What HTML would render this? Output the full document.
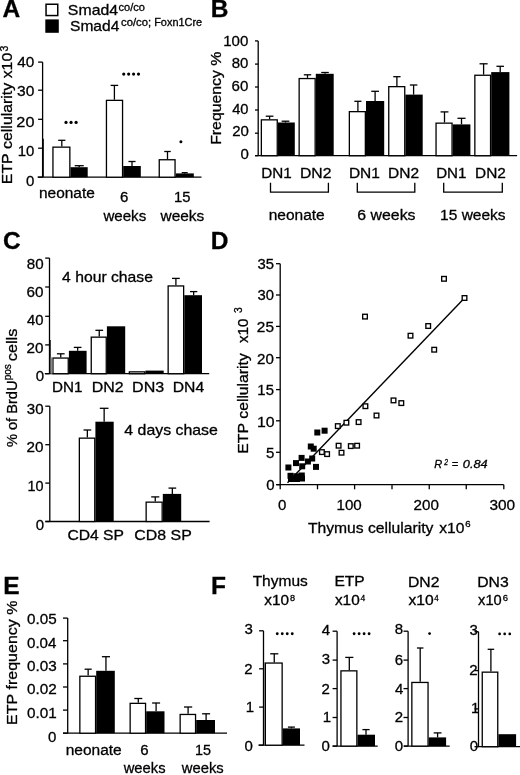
<!DOCTYPE html>
<html><head><meta charset="utf-8"><style>
html,body{margin:0;padding:0;background:#fff;}
svg{display:block;will-change:transform;filter:blur(0.3px);}
text{font-family:"Liberation Sans", sans-serif;fill:#000;font-kerning:none;stroke:#000;stroke-width:0.3px;}
</style></head><body>
<svg width="520" height="775" viewBox="0 0 520 775">
<rect width="520" height="775" fill="#fff"/>
<text x="2.39" y="17.20" font-size="24.5" font-weight="bold" >A</text>
<text x="210.76" y="17.40" font-size="24.5" font-weight="bold" >B</text>
<text x="3.00" y="248.60" font-size="24.5" font-weight="bold" >C</text>
<text x="210.76" y="248.60" font-size="24.5" font-weight="bold" >D</text>
<text x="3.36" y="594.10" font-size="24.5" font-weight="bold" >E</text>
<text x="210.96" y="594.10" font-size="24.5" font-weight="bold" >F</text>
<rect x="46.05" y="4.25" width="11.7" height="11.3" fill="#fff" stroke="#000" stroke-width="1.5"/>
<rect x="45.3" y="19.4" width="13.5" height="13.4" fill="#000"/>
<text x="67.88" y="15.20" font-size="15" font-weight="normal"  textLength="50.18" lengthAdjust="spacingAndGlyphs">Smad4</text>
<text x="118.53" y="10.80" font-size="10.5" font-weight="normal"  textLength="26.33" lengthAdjust="spacingAndGlyphs">co/co</text>
<text x="70.04" y="30.80" font-size="15" font-weight="normal"  textLength="49.31" lengthAdjust="spacingAndGlyphs">Smad4</text>
<text x="121.02" y="26.20" font-size="10.5" font-weight="normal"  textLength="29.99" lengthAdjust="spacingAndGlyphs">co/co;</text>
<text x="154.21" y="26.20" font-size="10.5" font-weight="normal"  textLength="47.88" lengthAdjust="spacingAndGlyphs">Foxn1Cre</text>
<line x1="42.6" y1="62.1" x2="42.6" y2="177.2" stroke="#000" stroke-width="1.3"/>
<line x1="38.1" y1="62.1" x2="42.6" y2="62.1" stroke="#000" stroke-width="1.3"/>
<line x1="38.1" y1="90.2" x2="42.6" y2="90.2" stroke="#000" stroke-width="1.3"/>
<line x1="38.1" y1="119.3" x2="42.6" y2="119.3" stroke="#000" stroke-width="1.3"/>
<line x1="38.1" y1="148.2" x2="42.6" y2="148.2" stroke="#000" stroke-width="1.3"/>
<line x1="38.1" y1="177.2" x2="42.6" y2="177.2" stroke="#000" stroke-width="1.3"/>
<line x1="37.6" y1="177.2" x2="201.5" y2="177.2" stroke="#000" stroke-width="1.3"/>
<text x="17.25" y="66.90" font-size="15.0" font-weight="normal"  textLength="17.05" lengthAdjust="spacingAndGlyphs">40</text>
<text x="17.01" y="96.20" font-size="15.0" font-weight="normal"  textLength="17.30" lengthAdjust="spacingAndGlyphs">30</text>
<text x="16.38" y="127.20" font-size="15.0" font-weight="normal"  textLength="18.05" lengthAdjust="spacingAndGlyphs">20</text>
<text x="17.76" y="156.00" font-size="15.0" font-weight="normal"  textLength="16.62" lengthAdjust="spacingAndGlyphs">10</text>
<text x="26.01" y="186.20" font-size="15.0" font-weight="normal" >0</text>
<rect x="52.95" y="147.15" width="16.90" height="30.05" fill="#fff" stroke="#000" stroke-width="1.3"/>
<line x1="61.8" y1="146.5" x2="61.8" y2="140.3" stroke="#000" stroke-width="1.3"/>
<line x1="58.199999999999996" y1="140.3" x2="65.39999999999999" y2="140.3" stroke="#000" stroke-width="1.3"/>
<rect x="70.50" y="167.20" width="17.20" height="10.00" fill="#000"/>
<line x1="79.2" y1="167.2" x2="79.2" y2="165.7" stroke="#000" stroke-width="1.3"/>
<line x1="74.7" y1="165.7" x2="83.7" y2="165.7" stroke="#000" stroke-width="1.3"/>
<rect x="106.45" y="100.35" width="16.10" height="76.85" fill="#fff" stroke="#000" stroke-width="1.3"/>
<line x1="114.4" y1="99.7" x2="114.4" y2="85.4" stroke="#000" stroke-width="1.3"/>
<line x1="110.60000000000001" y1="85.4" x2="118.2" y2="85.4" stroke="#000" stroke-width="1.3"/>
<rect x="123.20" y="166.00" width="17.60" height="11.20" fill="#000"/>
<line x1="132.0" y1="166.0" x2="132.0" y2="161.5" stroke="#000" stroke-width="1.3"/>
<line x1="128.45" y1="161.5" x2="135.55" y2="161.5" stroke="#000" stroke-width="1.3"/>
<rect x="159.25" y="159.75" width="15.80" height="17.45" fill="#fff" stroke="#000" stroke-width="1.3"/>
<line x1="167.5" y1="159.1" x2="167.5" y2="151.5" stroke="#000" stroke-width="1.3"/>
<line x1="164.25" y1="151.5" x2="170.75" y2="151.5" stroke="#000" stroke-width="1.3"/>
<rect x="175.70" y="173.40" width="18.10" height="3.80" fill="#000"/>
<line x1="184.7" y1="173.4" x2="184.7" y2="172.7" stroke="#000" stroke-width="1.3"/>
<line x1="181.7" y1="172.7" x2="187.7" y2="172.7" stroke="#000" stroke-width="1.3"/>
<circle cx="66.00" cy="122.4" r="1.6" fill="#000"/>
<circle cx="71.05" cy="122.4" r="1.6" fill="#000"/>
<circle cx="76.10" cy="122.4" r="1.6" fill="#000"/>
<circle cx="123.75" cy="74.1" r="1.6" fill="#000"/>
<circle cx="128.67" cy="74.1" r="1.6" fill="#000"/>
<circle cx="133.58" cy="74.1" r="1.6" fill="#000"/>
<circle cx="138.50" cy="74.1" r="1.6" fill="#000"/>
<circle cx="180.9" cy="141.8" r="1.5" fill="#000"/>
<text x="38.97" y="197.80" font-size="15.5" font-weight="normal"  textLength="55.81" lengthAdjust="spacingAndGlyphs">neonate</text>
<text x="119.94" y="202.00" font-size="15.0" font-weight="normal" >6</text>
<text x="103.42" y="220.60" font-size="15.5" font-weight="normal"  textLength="42.82" lengthAdjust="spacingAndGlyphs">weeks</text>
<text x="173.97" y="202.00" font-size="15.0" font-weight="normal"  textLength="16.45" lengthAdjust="spacingAndGlyphs">15</text>
<text x="160.52" y="221.00" font-size="15.5" font-weight="normal"  textLength="43.73" lengthAdjust="spacingAndGlyphs">weeks</text>
<text transform="translate(11.60,184.20) rotate(-90)" x="0" y="0" font-size="15.0" textLength="131.42" lengthAdjust="spacingAndGlyphs">ETP cellularity x10</text>
<line x1="258.2" y1="40.9" x2="258.2" y2="155.7" stroke="#000" stroke-width="1.3"/>
<line x1="255.0" y1="40.9" x2="258.2" y2="40.9" stroke="#000" stroke-width="1.3"/>
<line x1="255.0" y1="64.1" x2="258.2" y2="64.1" stroke="#000" stroke-width="1.3"/>
<line x1="255.0" y1="87.0" x2="258.2" y2="87.0" stroke="#000" stroke-width="1.3"/>
<line x1="255.0" y1="110.0" x2="258.2" y2="110.0" stroke="#000" stroke-width="1.3"/>
<line x1="255.0" y1="133.2" x2="258.2" y2="133.2" stroke="#000" stroke-width="1.3"/>
<line x1="255.0" y1="155.7" x2="258.2" y2="155.7" stroke="#000" stroke-width="1.3"/>
<line x1="255.1" y1="155.7" x2="517.1" y2="155.7" stroke="#000" stroke-width="1.3"/>
<text x="223.15" y="46.00" font-size="15.0" font-weight="normal"  textLength="25.14" lengthAdjust="spacingAndGlyphs">100</text>
<text x="231.65" y="68.10" font-size="15.0" font-weight="normal"  textLength="16.63" lengthAdjust="spacingAndGlyphs">80</text>
<text x="231.54" y="91.20" font-size="15.0" font-weight="normal"  textLength="16.75" lengthAdjust="spacingAndGlyphs">60</text>
<text x="232.16" y="113.70" font-size="15.0" font-weight="normal"  textLength="16.31" lengthAdjust="spacingAndGlyphs">40</text>
<text x="232.25" y="136.30" font-size="15.0" font-weight="normal" >20</text>
<text x="240.61" y="158.90" font-size="15.0" font-weight="normal" >0</text>
<rect x="261.35" y="119.85" width="15.90" height="35.85" fill="#fff" stroke="#000" stroke-width="1.3"/>
<line x1="269.6" y1="119.2" x2="269.6" y2="116.2" stroke="#000" stroke-width="1.3"/>
<line x1="265.75" y1="116.2" x2="273.45000000000005" y2="116.2" stroke="#000" stroke-width="1.3"/>
<rect x="277.90" y="122.50" width="16.90" height="33.20" fill="#000"/>
<line x1="285.5" y1="122.5" x2="285.5" y2="121.2" stroke="#000" stroke-width="1.3"/>
<line x1="281.65" y1="121.2" x2="289.35" y2="121.2" stroke="#000" stroke-width="1.3"/>
<rect x="299.15" y="78.55" width="16.00" height="77.15" fill="#fff" stroke="#000" stroke-width="1.3"/>
<line x1="307.5" y1="77.9" x2="307.5" y2="74.8" stroke="#000" stroke-width="1.3"/>
<line x1="303.8" y1="74.8" x2="311.2" y2="74.8" stroke="#000" stroke-width="1.3"/>
<rect x="315.80" y="73.80" width="17.90" height="81.90" fill="#000"/>
<line x1="325.0" y1="73.8" x2="325.0" y2="72.5" stroke="#000" stroke-width="1.3"/>
<line x1="321.2" y1="72.5" x2="328.8" y2="72.5" stroke="#000" stroke-width="1.3"/>
<rect x="349.35" y="111.65" width="16.00" height="44.05" fill="#fff" stroke="#000" stroke-width="1.3"/>
<line x1="357.9" y1="111.0" x2="357.9" y2="101.3" stroke="#000" stroke-width="1.3"/>
<line x1="354.34999999999997" y1="101.3" x2="361.45" y2="101.3" stroke="#000" stroke-width="1.3"/>
<rect x="366.00" y="101.00" width="18.20" height="54.70" fill="#000"/>
<line x1="375.1" y1="101.0" x2="375.1" y2="91.3" stroke="#000" stroke-width="1.3"/>
<line x1="371.25" y1="91.3" x2="378.95000000000005" y2="91.3" stroke="#000" stroke-width="1.3"/>
<rect x="388.75" y="86.65" width="16.00" height="69.05" fill="#fff" stroke="#000" stroke-width="1.3"/>
<line x1="396.9" y1="86.0" x2="396.9" y2="76.7" stroke="#000" stroke-width="1.3"/>
<line x1="393.25" y1="76.7" x2="400.54999999999995" y2="76.7" stroke="#000" stroke-width="1.3"/>
<rect x="405.40" y="94.60" width="17.30" height="61.10" fill="#000"/>
<line x1="413.6" y1="94.6" x2="413.6" y2="85.0" stroke="#000" stroke-width="1.3"/>
<line x1="409.85" y1="85.0" x2="417.35" y2="85.0" stroke="#000" stroke-width="1.3"/>
<rect x="436.05" y="123.15" width="16.00" height="32.55" fill="#fff" stroke="#000" stroke-width="1.3"/>
<line x1="444.5" y1="122.5" x2="444.5" y2="111.9" stroke="#000" stroke-width="1.3"/>
<line x1="440.55" y1="111.9" x2="448.45" y2="111.9" stroke="#000" stroke-width="1.3"/>
<rect x="452.70" y="124.40" width="17.70" height="31.30" fill="#000"/>
<line x1="461.5" y1="124.4" x2="461.5" y2="118.3" stroke="#000" stroke-width="1.3"/>
<line x1="457.45" y1="118.3" x2="465.55" y2="118.3" stroke="#000" stroke-width="1.3"/>
<rect x="474.85" y="75.25" width="15.70" height="80.45" fill="#fff" stroke="#000" stroke-width="1.3"/>
<line x1="483.6" y1="74.6" x2="483.6" y2="63.8" stroke="#000" stroke-width="1.3"/>
<line x1="479.55" y1="63.8" x2="487.65000000000003" y2="63.8" stroke="#000" stroke-width="1.3"/>
<rect x="491.20" y="72.10" width="18.20" height="83.60" fill="#000"/>
<line x1="500.2" y1="72.1" x2="500.2" y2="66.3" stroke="#000" stroke-width="1.3"/>
<line x1="496.45" y1="66.3" x2="503.95" y2="66.3" stroke="#000" stroke-width="1.3"/>
<text x="261.25" y="178.40" font-size="15.0" font-weight="normal"  textLength="30.49" lengthAdjust="spacingAndGlyphs">DN1</text>
<text x="300.01" y="178.40" font-size="15.0" font-weight="normal"  textLength="31.48" lengthAdjust="spacingAndGlyphs">DN2</text>
<text x="348.93" y="178.40" font-size="15.0" font-weight="normal"  textLength="31.03" lengthAdjust="spacingAndGlyphs">DN1</text>
<text x="388.13" y="178.40" font-size="15.0" font-weight="normal"  textLength="31.05" lengthAdjust="spacingAndGlyphs">DN2</text>
<text x="436.16" y="178.40" font-size="15.0" font-weight="normal"  textLength="30.28" lengthAdjust="spacingAndGlyphs">DN1</text>
<text x="475.04" y="178.40" font-size="15.0" font-weight="normal"  textLength="30.84" lengthAdjust="spacingAndGlyphs">DN2</text>
<path d="M270.5 182.7 V192.2 H328.4 V182.7" fill="none" stroke="#000" stroke-width="1.3"/>
<path d="M357.3 182.7 V192.2 H414.8 V182.7" fill="none" stroke="#000" stroke-width="1.3"/>
<path d="M443.7 182.7 V192.2 H502.3 V182.7" fill="none" stroke="#000" stroke-width="1.3"/>
<text x="268.67" y="220.00" font-size="15.5" font-weight="normal" >neonate</text>
<text x="357.39" y="220.00" font-size="15.5" font-weight="normal"  textLength="58.18" lengthAdjust="spacingAndGlyphs">6 weeks</text>
<text x="440.12" y="219.60" font-size="15.5" font-weight="normal" >15 weeks</text>
<text transform="translate(220.50,144.80) rotate(-90)" x="0" y="0" font-size="15.5" textLength="93.06" lengthAdjust="spacingAndGlyphs">Frequency %</text>
<text transform="translate(7.6,51.4) rotate(-90)" font-size="10.5">3</text>
<line x1="49.5" y1="258.1" x2="49.5" y2="373.7" stroke="#000" stroke-width="1.3"/>
<line x1="45.2" y1="258.1" x2="49.5" y2="258.1" stroke="#000" stroke-width="1.3"/>
<line x1="45.2" y1="287.0" x2="49.5" y2="287.0" stroke="#000" stroke-width="1.3"/>
<line x1="45.2" y1="316.3" x2="49.5" y2="316.3" stroke="#000" stroke-width="1.3"/>
<line x1="45.2" y1="344.9" x2="49.5" y2="344.9" stroke="#000" stroke-width="1.3"/>
<line x1="45.2" y1="373.7" x2="49.5" y2="373.7" stroke="#000" stroke-width="1.3"/>
<line x1="44.8" y1="373.7" x2="209.2" y2="373.7" stroke="#000" stroke-width="1.3"/>
<text x="26.74" y="269.40" font-size="15.0" font-weight="normal"  textLength="16.85" lengthAdjust="spacingAndGlyphs">80</text>
<text x="26.63" y="297.40" font-size="15.0" font-weight="normal"  textLength="16.97" lengthAdjust="spacingAndGlyphs">60</text>
<text x="27.06" y="325.00" font-size="15.0" font-weight="normal"  textLength="16.52" lengthAdjust="spacingAndGlyphs">40</text>
<text x="26.63" y="352.50" font-size="15.0" font-weight="normal"  textLength="16.96" lengthAdjust="spacingAndGlyphs">20</text>
<text x="35.81" y="380.50" font-size="15.0" font-weight="normal" >0</text>
<rect x="52.95" y="358.05" width="15.30" height="15.65" fill="#fff" stroke="#000" stroke-width="1.3"/>
<line x1="60.75" y1="357.4" x2="60.75" y2="353.8" stroke="#000" stroke-width="1.3"/>
<line x1="56.9" y1="353.8" x2="64.6" y2="353.8" stroke="#000" stroke-width="1.3"/>
<rect x="68.90" y="350.80" width="17.70" height="22.90" fill="#000"/>
<line x1="77.65" y1="350.8" x2="77.65" y2="347.4" stroke="#000" stroke-width="1.3"/>
<line x1="73.80000000000001" y1="347.4" x2="81.5" y2="347.4" stroke="#000" stroke-width="1.3"/>
<rect x="91.25" y="337.15" width="15.00" height="36.55" fill="#fff" stroke="#000" stroke-width="1.3"/>
<line x1="99.25" y1="336.5" x2="99.25" y2="330.3" stroke="#000" stroke-width="1.3"/>
<line x1="95.4" y1="330.3" x2="103.1" y2="330.3" stroke="#000" stroke-width="1.3"/>
<rect x="106.90" y="326.30" width="18.30" height="47.40" fill="#000"/>
<rect x="129.35" y="371.85" width="15.40" height="1.85" fill="#fff" stroke="#000" stroke-width="1.3"/>
<rect x="145.40" y="370.60" width="18.30" height="3.10" fill="#000"/>
<rect x="168.15" y="285.95" width="15.50" height="87.75" fill="#fff" stroke="#000" stroke-width="1.3"/>
<line x1="175.9" y1="285.3" x2="175.9" y2="278.4" stroke="#000" stroke-width="1.3"/>
<line x1="172.0" y1="278.4" x2="179.8" y2="278.4" stroke="#000" stroke-width="1.3"/>
<rect x="184.30" y="295.20" width="17.70" height="78.50" fill="#000"/>
<line x1="193.65" y1="295.2" x2="193.65" y2="291.6" stroke="#000" stroke-width="1.3"/>
<line x1="190.0" y1="291.6" x2="197.3" y2="291.6" stroke="#000" stroke-width="1.3"/>
<text x="52.05" y="392.00" font-size="15.0" font-weight="normal"  textLength="30.49" lengthAdjust="spacingAndGlyphs">DN1</text>
<text x="91.69" y="392.00" font-size="15.0" font-weight="normal"  textLength="31.91" lengthAdjust="spacingAndGlyphs">DN2</text>
<text x="132.08" y="392.00" font-size="15.0" font-weight="normal"  textLength="32.12" lengthAdjust="spacingAndGlyphs">DN3</text>
<text x="172.71" y="392.00" font-size="15.0" font-weight="normal"  textLength="31.45" lengthAdjust="spacingAndGlyphs">DN4</text>
<text x="62.14" y="282.30" font-size="15.0" font-weight="normal"  textLength="90.76" lengthAdjust="spacingAndGlyphs">4 hour chase</text>
<line x1="49.8" y1="406.2" x2="49.8" y2="521.5" stroke="#000" stroke-width="1.3"/>
<line x1="45.3" y1="406.2" x2="49.8" y2="406.2" stroke="#000" stroke-width="1.3"/>
<line x1="45.3" y1="444.7" x2="49.8" y2="444.7" stroke="#000" stroke-width="1.3"/>
<line x1="45.3" y1="483.1" x2="49.8" y2="483.1" stroke="#000" stroke-width="1.3"/>
<line x1="45.3" y1="521.5" x2="49.8" y2="521.5" stroke="#000" stroke-width="1.3"/>
<line x1="45.3" y1="521.5" x2="209.6" y2="521.5" stroke="#000" stroke-width="1.3"/>
<text x="26.83" y="413.50" font-size="15.0" font-weight="normal"  textLength="16.76" lengthAdjust="spacingAndGlyphs">30</text>
<text x="26.63" y="452.30" font-size="15.0" font-weight="normal"  textLength="16.96" lengthAdjust="spacingAndGlyphs">20</text>
<text x="27.50" y="490.60" font-size="15.0" font-weight="normal"  textLength="16.06" lengthAdjust="spacingAndGlyphs">10</text>
<text x="35.81" y="530.00" font-size="15.0" font-weight="normal" >0</text>
<rect x="79.35" y="438.15" width="15.40" height="83.35" fill="#fff" stroke="#000" stroke-width="1.3"/>
<line x1="87.35" y1="437.5" x2="87.35" y2="430.0" stroke="#000" stroke-width="1.3"/>
<line x1="83.5" y1="430.0" x2="91.19999999999999" y2="430.0" stroke="#000" stroke-width="1.3"/>
<rect x="95.40" y="421.70" width="18.30" height="99.80" fill="#000"/>
<line x1="104.15" y1="421.7" x2="104.15" y2="408.3" stroke="#000" stroke-width="1.3"/>
<line x1="99.80000000000001" y1="408.3" x2="108.5" y2="408.3" stroke="#000" stroke-width="1.3"/>
<rect x="146.15" y="502.15" width="16.00" height="19.35" fill="#fff" stroke="#000" stroke-width="1.3"/>
<line x1="155.25" y1="501.5" x2="155.25" y2="496.9" stroke="#000" stroke-width="1.3"/>
<line x1="151.2" y1="496.9" x2="159.3" y2="496.9" stroke="#000" stroke-width="1.3"/>
<rect x="162.80" y="493.90" width="18.40" height="27.60" fill="#000"/>
<line x1="172.35" y1="493.9" x2="172.35" y2="488.1" stroke="#000" stroke-width="1.3"/>
<line x1="168.5" y1="488.1" x2="176.2" y2="488.1" stroke="#000" stroke-width="1.3"/>
<text x="124.34" y="434.80" font-size="15.0" font-weight="normal"  textLength="93.57" lengthAdjust="spacingAndGlyphs">4 days chase</text>
<text x="67.40" y="539.50" font-size="15.0" font-weight="normal"  textLength="56.62" lengthAdjust="spacingAndGlyphs">CD4 SP</text>
<text x="134.39" y="539.50" font-size="15.0" font-weight="normal"  textLength="57.45" lengthAdjust="spacingAndGlyphs">CD8 SP</text>
<text transform="translate(17.20,447.12) rotate(-90)" x="0" y="0" font-size="15.0" textLength="66.55" lengthAdjust="spacingAndGlyphs">% of BrdU</text>
<text transform="translate(17.20,361.29) rotate(-90)" x="0" y="0" font-size="15.0" textLength="32.68" lengthAdjust="spacingAndGlyphs">cells</text>
<text transform="translate(11.3,380.3) rotate(-90)" font-size="10">pos</text>
<line x1="280.2" y1="263.7" x2="280.2" y2="489.3" stroke="#000" stroke-width="1.3"/>
<line x1="276.0" y1="263.7" x2="280.2" y2="263.7" stroke="#000" stroke-width="1.3"/>
<line x1="276.0" y1="295.0" x2="280.2" y2="295.0" stroke="#000" stroke-width="1.3"/>
<line x1="276.0" y1="326.4" x2="280.2" y2="326.4" stroke="#000" stroke-width="1.3"/>
<line x1="276.0" y1="357.7" x2="280.2" y2="357.7" stroke="#000" stroke-width="1.3"/>
<line x1="276.0" y1="389.6" x2="280.2" y2="389.6" stroke="#000" stroke-width="1.3"/>
<line x1="276.0" y1="420.8" x2="280.2" y2="420.8" stroke="#000" stroke-width="1.3"/>
<line x1="276.0" y1="452.3" x2="280.2" y2="452.3" stroke="#000" stroke-width="1.3"/>
<line x1="276.0" y1="484.7" x2="280.2" y2="484.7" stroke="#000" stroke-width="1.3"/>
<line x1="277.0" y1="484.7" x2="503.8" y2="484.7" stroke="#000" stroke-width="1.3"/>
<line x1="317.5" y1="484.7" x2="317.5" y2="489.3" stroke="#000" stroke-width="1.3"/>
<line x1="354.6" y1="484.7" x2="354.6" y2="489.3" stroke="#000" stroke-width="1.3"/>
<line x1="392.0" y1="484.7" x2="392.0" y2="489.3" stroke="#000" stroke-width="1.3"/>
<line x1="429.25" y1="484.7" x2="429.25" y2="489.3" stroke="#000" stroke-width="1.3"/>
<line x1="466.25" y1="484.7" x2="466.25" y2="489.3" stroke="#000" stroke-width="1.3"/>
<line x1="503.8" y1="484.7" x2="503.8" y2="489.3" stroke="#000" stroke-width="1.3"/>
<text x="257.44" y="269.10" font-size="15.0" font-weight="normal"  textLength="16.49" lengthAdjust="spacingAndGlyphs">35</text>
<text x="257.44" y="300.30" font-size="15.0" font-weight="normal"  textLength="16.44" lengthAdjust="spacingAndGlyphs">30</text>
<text x="256.83" y="332.20" font-size="15.0" font-weight="normal"  textLength="17.12" lengthAdjust="spacingAndGlyphs">25</text>
<text x="257.04" y="363.50" font-size="15.0" font-weight="normal"  textLength="16.85" lengthAdjust="spacingAndGlyphs">20</text>
<text x="257.37" y="395.30" font-size="15.0" font-weight="normal"  textLength="16.56" lengthAdjust="spacingAndGlyphs">15</text>
<text x="256.99" y="427.20" font-size="15.0" font-weight="normal"  textLength="17.63" lengthAdjust="spacingAndGlyphs">10</text>
<text x="265.90" y="457.90" font-size="15.0" font-weight="normal" >5</text>
<text x="266.21" y="490.30" font-size="15.0" font-weight="normal" >0</text>
<text x="277.91" y="509.90" font-size="15.0" font-weight="normal" >0</text>
<text x="336.55" y="509.90" font-size="15.0" font-weight="normal"  textLength="25.24" lengthAdjust="spacingAndGlyphs">100</text>
<text x="413.49" y="509.90" font-size="15.0" font-weight="normal"  textLength="25.36" lengthAdjust="spacingAndGlyphs">200</text>
<text x="489.41" y="509.90" font-size="15.0" font-weight="normal"  textLength="25.69" lengthAdjust="spacingAndGlyphs">300</text>
<text x="307.95" y="532.80" font-size="15.0" font-weight="normal"  textLength="125.38" lengthAdjust="spacingAndGlyphs">Thymus cellularity</text>
<text x="439.32" y="532.80" font-size="15.0" font-weight="normal"  textLength="25.19" lengthAdjust="spacingAndGlyphs">x10</text>
<text x="465.22" y="527.40" font-size="8.5" font-weight="normal"  textLength="5.30" lengthAdjust="spacingAndGlyphs">6</text>
<text transform="translate(248.20,453.69) rotate(-90)" x="0" y="0" font-size="15.0" textLength="100.52" lengthAdjust="spacingAndGlyphs">ETP cellularity</text>
<text transform="translate(247.50,343.07) rotate(-90)" x="0" y="0" font-size="15.0" textLength="24.57" lengthAdjust="spacingAndGlyphs">x10</text>
<text transform="translate(242.2,312.9) rotate(-90)" font-size="10.3">3</text>
<line x1="287.5" y1="482.8" x2="464.5" y2="298.0" stroke="#000" stroke-width="1.4"/>
<rect x="314.30" y="429.50" width="6.0" height="6.0" fill="#000"/>
<rect x="321.60" y="427.70" width="6.0" height="6.0" fill="#000"/>
<rect x="307.80" y="443.50" width="6.0" height="6.0" fill="#000"/>
<rect x="310.70" y="445.70" width="6.0" height="6.0" fill="#000"/>
<rect x="298.60" y="454.90" width="6.0" height="6.0" fill="#000"/>
<rect x="293.00" y="460.10" width="6.0" height="6.0" fill="#000"/>
<rect x="299.20" y="463.30" width="6.0" height="6.0" fill="#000"/>
<rect x="304.90" y="458.50" width="6.0" height="6.0" fill="#000"/>
<rect x="309.20" y="455.50" width="6.0" height="6.0" fill="#000"/>
<rect x="313.00" y="463.90" width="6.0" height="6.0" fill="#000"/>
<rect x="285.40" y="464.50" width="6.0" height="6.0" fill="#000"/>
<rect x="287.50" y="472.80" width="6.0" height="6.0" fill="#000"/>
<rect x="293.30" y="473.30" width="6.0" height="6.0" fill="#000"/>
<rect x="298.80" y="472.50" width="6.0" height="6.0" fill="#000"/>
<rect x="288.00" y="476.00" width="6.0" height="6.0" fill="#000"/>
<rect x="294.00" y="476.00" width="6.0" height="6.0" fill="#000"/>
<rect x="299.00" y="475.50" width="6.0" height="6.0" fill="#000"/>
<rect x="441.68" y="276.48" width="4.65" height="4.65" fill="#fff" stroke="#000" stroke-width="1.35"/>
<rect x="462.18" y="295.68" width="4.65" height="4.65" fill="#fff" stroke="#000" stroke-width="1.35"/>
<rect x="362.68" y="314.28" width="4.65" height="4.65" fill="#fff" stroke="#000" stroke-width="1.35"/>
<rect x="425.88" y="323.68" width="4.65" height="4.65" fill="#fff" stroke="#000" stroke-width="1.35"/>
<rect x="408.18" y="333.38" width="4.65" height="4.65" fill="#fff" stroke="#000" stroke-width="1.35"/>
<rect x="431.88" y="347.38" width="4.65" height="4.65" fill="#fff" stroke="#000" stroke-width="1.35"/>
<rect x="363.07" y="403.88" width="4.65" height="4.65" fill="#fff" stroke="#000" stroke-width="1.35"/>
<rect x="391.18" y="398.07" width="4.65" height="4.65" fill="#fff" stroke="#000" stroke-width="1.35"/>
<rect x="398.98" y="400.78" width="4.65" height="4.65" fill="#fff" stroke="#000" stroke-width="1.35"/>
<rect x="374.18" y="413.18" width="4.65" height="4.65" fill="#fff" stroke="#000" stroke-width="1.35"/>
<rect x="344.07" y="420.38" width="4.65" height="4.65" fill="#fff" stroke="#000" stroke-width="1.35"/>
<rect x="335.48" y="423.78" width="4.65" height="4.65" fill="#fff" stroke="#000" stroke-width="1.35"/>
<rect x="356.28" y="419.78" width="4.65" height="4.65" fill="#fff" stroke="#000" stroke-width="1.35"/>
<rect x="336.28" y="443.38" width="4.65" height="4.65" fill="#fff" stroke="#000" stroke-width="1.35"/>
<rect x="348.48" y="443.78" width="4.65" height="4.65" fill="#fff" stroke="#000" stroke-width="1.35"/>
<rect x="354.78" y="443.38" width="4.65" height="4.65" fill="#fff" stroke="#000" stroke-width="1.35"/>
<rect x="339.18" y="450.38" width="4.65" height="4.65" fill="#fff" stroke="#000" stroke-width="1.35"/>
<rect x="319.57" y="449.78" width="4.65" height="4.65" fill="#fff" stroke="#000" stroke-width="1.35"/>
<rect x="324.78" y="451.78" width="4.65" height="4.65" fill="#fff" stroke="#000" stroke-width="1.35"/>
<text x="434.16" y="468.20" font-size="11" font-weight="normal" font-style="italic" >R</text>
<text x="444.34" y="464.60" font-size="9" font-weight="normal" font-style="italic"  textLength="3.76" lengthAdjust="spacingAndGlyphs">2</text>
<text x="451.70" y="468.20" font-size="11" font-weight="normal" font-style="italic" >=</text>
<text x="462.85" y="468.20" font-size="11" font-weight="normal" font-style="italic"  textLength="24.83" lengthAdjust="spacingAndGlyphs">0.84</text>
<line x1="67.7" y1="618.1" x2="67.7" y2="733.2" stroke="#000" stroke-width="1.3"/>
<line x1="63.0" y1="618.1" x2="67.7" y2="618.1" stroke="#000" stroke-width="1.3"/>
<line x1="63.0" y1="640.7" x2="67.7" y2="640.7" stroke="#000" stroke-width="1.3"/>
<line x1="63.0" y1="663.9" x2="67.7" y2="663.9" stroke="#000" stroke-width="1.3"/>
<line x1="63.0" y1="687.0" x2="67.7" y2="687.0" stroke="#000" stroke-width="1.3"/>
<line x1="63.0" y1="710.1" x2="67.7" y2="710.1" stroke="#000" stroke-width="1.3"/>
<line x1="63.0" y1="733.2" x2="67.7" y2="733.2" stroke="#000" stroke-width="1.3"/>
<line x1="63.0" y1="733.2" x2="227.0" y2="733.2" stroke="#000" stroke-width="1.3"/>
<text x="27.01" y="624.10" font-size="15.0" font-weight="normal"  textLength="29.63" lengthAdjust="spacingAndGlyphs">0.05</text>
<text x="27.01" y="647.90" font-size="15.0" font-weight="normal"  textLength="29.43" lengthAdjust="spacingAndGlyphs">0.04</text>
<text x="27.00" y="670.90" font-size="15.0" font-weight="normal"  textLength="29.67" lengthAdjust="spacingAndGlyphs">0.03</text>
<text x="27.00" y="694.30" font-size="15.0" font-weight="normal"  textLength="29.77" lengthAdjust="spacingAndGlyphs">0.02</text>
<text x="27.00" y="718.30" font-size="15.0" font-weight="normal"  textLength="29.74" lengthAdjust="spacingAndGlyphs">0.01</text>
<text x="48.01" y="742.00" font-size="15.0" font-weight="normal" >0</text>
<rect x="79.85" y="676.25" width="15.70" height="56.95" fill="#fff" stroke="#000" stroke-width="1.3"/>
<line x1="88.15" y1="675.6" x2="88.15" y2="669.2" stroke="#000" stroke-width="1.3"/>
<line x1="84.60000000000001" y1="669.2" x2="91.7" y2="669.2" stroke="#000" stroke-width="1.3"/>
<rect x="96.20" y="670.80" width="18.60" height="62.40" fill="#000"/>
<line x1="105.95" y1="670.8" x2="105.95" y2="656.7" stroke="#000" stroke-width="1.3"/>
<line x1="101.9" y1="656.7" x2="110.0" y2="656.7" stroke="#000" stroke-width="1.3"/>
<rect x="130.15" y="703.35" width="15.40" height="29.85" fill="#fff" stroke="#000" stroke-width="1.3"/>
<line x1="138.3" y1="702.7" x2="138.3" y2="698.5" stroke="#000" stroke-width="1.3"/>
<line x1="134.3" y1="698.5" x2="142.3" y2="698.5" stroke="#000" stroke-width="1.3"/>
<rect x="146.20" y="711.30" width="18.30" height="21.90" fill="#000"/>
<line x1="156.1" y1="711.3" x2="156.1" y2="703.0" stroke="#000" stroke-width="1.3"/>
<line x1="152.1" y1="703.0" x2="160.1" y2="703.0" stroke="#000" stroke-width="1.3"/>
<rect x="180.15" y="714.45" width="15.40" height="18.75" fill="#fff" stroke="#000" stroke-width="1.3"/>
<line x1="188.1" y1="713.8" x2="188.1" y2="707.0" stroke="#000" stroke-width="1.3"/>
<line x1="184.0" y1="707.0" x2="192.2" y2="707.0" stroke="#000" stroke-width="1.3"/>
<rect x="196.20" y="720.00" width="18.80" height="13.20" fill="#000"/>
<line x1="206.1" y1="720.0" x2="206.1" y2="713.8" stroke="#000" stroke-width="1.3"/>
<line x1="202.1" y1="713.8" x2="210.1" y2="713.8" stroke="#000" stroke-width="1.3"/>
<text x="65.67" y="755.00" font-size="15.5" font-weight="normal" >neonate</text>
<text x="140.24" y="755.40" font-size="15.0" font-weight="normal" >6</text>
<text x="195.10" y="755.40" font-size="15.0" font-weight="normal"  textLength="16.00" lengthAdjust="spacingAndGlyphs">15</text>
<text x="123.72" y="773.30" font-size="15.5" font-weight="normal"  textLength="41.81" lengthAdjust="spacingAndGlyphs">weeks</text>
<text x="181.82" y="773.30" font-size="15.5" font-weight="normal"  textLength="41.91" lengthAdjust="spacingAndGlyphs">weeks</text>
<text transform="translate(16.80,724.91) rotate(-90)" x="0" y="0" font-size="15.0" textLength="124.28" lengthAdjust="spacingAndGlyphs">ETP frequency %</text>
<text x="252.65" y="585.60" font-size="15.0" font-weight="normal"  textLength="55.11" lengthAdjust="spacingAndGlyphs">Thymus</text>
<text x="264.23" y="605.10" font-size="14" font-weight="normal"  textLength="24.77" lengthAdjust="spacingAndGlyphs">x10</text>
<text x="290.10" y="600.80" font-size="9.5" font-weight="normal"  textLength="5.10" lengthAdjust="spacingAndGlyphs">8</text>
<text x="334.42" y="585.90" font-size="15.0" font-weight="normal"  textLength="30.30" lengthAdjust="spacingAndGlyphs">ETP</text>
<text x="334.93" y="605.10" font-size="14" font-weight="normal"  textLength="24.77" lengthAdjust="spacingAndGlyphs">x10</text>
<text x="360.50" y="600.80" font-size="9.5" font-weight="normal"  textLength="4.75" lengthAdjust="spacingAndGlyphs">4</text>
<text x="408.01" y="586.80" font-size="15.0" font-weight="normal"  textLength="31.48" lengthAdjust="spacingAndGlyphs">DN2</text>
<text x="408.52" y="605.10" font-size="14" font-weight="normal"  textLength="25.19" lengthAdjust="spacingAndGlyphs">x10</text>
<text x="434.32" y="600.80" font-size="9.5" font-weight="normal"  textLength="4.41" lengthAdjust="spacingAndGlyphs">4</text>
<text x="477.21" y="586.80" font-size="15.0" font-weight="normal"  textLength="31.48" lengthAdjust="spacingAndGlyphs">DN3</text>
<text x="478.14" y="605.10" font-size="14" font-weight="normal"  textLength="23.64" lengthAdjust="spacingAndGlyphs">x10</text>
<text x="502.82" y="600.80" font-size="9.5" font-weight="normal"  textLength="5.30" lengthAdjust="spacingAndGlyphs">6</text>
<line x1="263.5" y1="630.8" x2="263.5" y2="745.2" stroke="#000" stroke-width="1.3"/>
<line x1="259.1" y1="630.8" x2="263.5" y2="630.8" stroke="#000" stroke-width="1.3"/>
<line x1="259.1" y1="668.8" x2="263.5" y2="668.8" stroke="#000" stroke-width="1.3"/>
<line x1="259.1" y1="707.1" x2="263.5" y2="707.1" stroke="#000" stroke-width="1.3"/>
<line x1="259.1" y1="745.2" x2="263.5" y2="745.2" stroke="#000" stroke-width="1.3"/>
<line x1="258.4" y1="745.2" x2="304.5" y2="745.2" stroke="#000" stroke-width="1.3"/>
<text x="244.43" y="634.00" font-size="15.0" font-weight="normal" >3</text>
<text x="244.25" y="673.70" font-size="15.0" font-weight="normal" >2</text>
<text x="245.66" y="711.60" font-size="15.0" font-weight="normal" >1</text>
<text x="244.41" y="750.50" font-size="15.0" font-weight="normal" >0</text>
<rect x="265.35" y="663.05" width="16.80" height="82.15" fill="#fff" stroke="#000" stroke-width="1.3"/>
<line x1="274.25" y1="662.4" x2="274.25" y2="653.8" stroke="#000" stroke-width="1.3"/>
<line x1="270.2" y1="653.8" x2="278.3" y2="653.8" stroke="#000" stroke-width="1.3"/>
<rect x="282.80" y="728.40" width="17.20" height="16.80" fill="#000"/>
<line x1="291.4" y1="728.4" x2="291.4" y2="727.1" stroke="#000" stroke-width="1.3"/>
<line x1="287.9" y1="727.1" x2="294.9" y2="727.1" stroke="#000" stroke-width="1.3"/>
<circle cx="277.25" cy="633.75" r="1.4" fill="#000"/>
<circle cx="282.25" cy="633.75" r="1.4" fill="#000"/>
<circle cx="287.25" cy="633.75" r="1.4" fill="#000"/>
<circle cx="292.25" cy="633.75" r="1.4" fill="#000"/>
<line x1="337.1" y1="631.2" x2="337.1" y2="746.1" stroke="#000" stroke-width="1.3"/>
<line x1="332.6" y1="631.2" x2="337.1" y2="631.2" stroke="#000" stroke-width="1.3"/>
<line x1="332.6" y1="660.1" x2="337.1" y2="660.1" stroke="#000" stroke-width="1.3"/>
<line x1="332.6" y1="688.6" x2="337.1" y2="688.6" stroke="#000" stroke-width="1.3"/>
<line x1="332.6" y1="717.5" x2="337.1" y2="717.5" stroke="#000" stroke-width="1.3"/>
<line x1="332.6" y1="746.1" x2="337.1" y2="746.1" stroke="#000" stroke-width="1.3"/>
<line x1="332.6" y1="746.1" x2="377.7" y2="746.1" stroke="#000" stroke-width="1.3"/>
<text x="321.86" y="634.90" font-size="15.0" font-weight="normal" >4</text>
<text x="321.63" y="663.80" font-size="15.0" font-weight="normal" >3</text>
<text x="321.45" y="693.50" font-size="15.0" font-weight="normal" >2</text>
<text x="322.66" y="722.10" font-size="15.0" font-weight="normal" >1</text>
<text x="321.61" y="751.40" font-size="15.0" font-weight="normal" >0</text>
<rect x="340.95" y="670.85" width="15.90" height="75.25" fill="#fff" stroke="#000" stroke-width="1.3"/>
<line x1="349.3" y1="670.2" x2="349.3" y2="657.4" stroke="#000" stroke-width="1.3"/>
<line x1="345.2" y1="657.4" x2="353.40000000000003" y2="657.4" stroke="#000" stroke-width="1.3"/>
<rect x="357.50" y="734.70" width="17.50" height="11.40" fill="#000"/>
<line x1="366.0" y1="734.7" x2="366.0" y2="729.6" stroke="#000" stroke-width="1.3"/>
<line x1="362.4" y1="729.6" x2="369.6" y2="729.6" stroke="#000" stroke-width="1.3"/>
<circle cx="354.10" cy="633.75" r="1.4" fill="#000"/>
<circle cx="359.10" cy="633.75" r="1.4" fill="#000"/>
<circle cx="364.10" cy="633.75" r="1.4" fill="#000"/>
<circle cx="369.10" cy="633.75" r="1.4" fill="#000"/>
<line x1="408.1" y1="631.2" x2="408.1" y2="746.1" stroke="#000" stroke-width="1.3"/>
<line x1="403.5" y1="631.2" x2="408.1" y2="631.2" stroke="#000" stroke-width="1.3"/>
<line x1="403.5" y1="660.1" x2="408.1" y2="660.1" stroke="#000" stroke-width="1.3"/>
<line x1="403.5" y1="688.6" x2="408.1" y2="688.6" stroke="#000" stroke-width="1.3"/>
<line x1="403.5" y1="717.5" x2="408.1" y2="717.5" stroke="#000" stroke-width="1.3"/>
<line x1="403.5" y1="746.1" x2="408.1" y2="746.1" stroke="#000" stroke-width="1.3"/>
<line x1="404.0" y1="746.1" x2="449.7" y2="746.1" stroke="#000" stroke-width="1.3"/>
<text x="394.75" y="634.30" font-size="15.0" font-weight="normal" >8</text>
<text x="394.64" y="664.70" font-size="15.0" font-weight="normal" >6</text>
<text x="395.06" y="693.50" font-size="15.0" font-weight="normal" >4</text>
<text x="394.65" y="722.10" font-size="15.0" font-weight="normal" >2</text>
<text x="394.81" y="751.40" font-size="15.0" font-weight="normal" >0</text>
<rect x="411.85" y="682.45" width="16.20" height="63.65" fill="#fff" stroke="#000" stroke-width="1.3"/>
<line x1="420.2" y1="681.8" x2="420.2" y2="648.0" stroke="#000" stroke-width="1.3"/>
<line x1="416.95" y1="648.0" x2="423.45" y2="648.0" stroke="#000" stroke-width="1.3"/>
<rect x="428.70" y="737.40" width="17.40" height="8.70" fill="#000"/>
<line x1="437.6" y1="737.4" x2="437.6" y2="732.9" stroke="#000" stroke-width="1.3"/>
<line x1="433.70000000000005" y1="732.9" x2="441.5" y2="732.9" stroke="#000" stroke-width="1.3"/>
<circle cx="429.6" cy="633.6" r="1.4" fill="#000"/>
<line x1="478.5" y1="631.7" x2="478.5" y2="746.7" stroke="#000" stroke-width="1.3"/>
<line x1="474.5" y1="631.7" x2="478.5" y2="631.7" stroke="#000" stroke-width="1.3"/>
<line x1="474.5" y1="670.6" x2="478.5" y2="670.6" stroke="#000" stroke-width="1.3"/>
<line x1="474.5" y1="708.9" x2="478.5" y2="708.9" stroke="#000" stroke-width="1.3"/>
<line x1="474.5" y1="746.7" x2="478.5" y2="746.7" stroke="#000" stroke-width="1.3"/>
<line x1="478.0" y1="746.7" x2="520.0" y2="746.7" stroke="#000" stroke-width="1.3"/>
<text x="469.43" y="634.90" font-size="15.0" font-weight="normal" >3</text>
<text x="469.25" y="674.60" font-size="15.0" font-weight="normal" >2</text>
<text x="470.96" y="712.50" font-size="15.0" font-weight="normal" >1</text>
<text x="469.71" y="751.40" font-size="15.0" font-weight="normal" >0</text>
<rect x="482.25" y="672.15" width="15.50" height="74.55" fill="#fff" stroke="#000" stroke-width="1.3"/>
<line x1="490.9" y1="671.5" x2="490.9" y2="649.3" stroke="#000" stroke-width="1.3"/>
<line x1="487.65" y1="649.3" x2="494.15" y2="649.3" stroke="#000" stroke-width="1.3"/>
<rect x="498.40" y="734.20" width="17.70" height="12.50" fill="#000"/>
<circle cx="499.60" cy="633.9" r="1.35" fill="#000"/>
<circle cx="504.68" cy="633.9" r="1.35" fill="#000"/>
<circle cx="509.75" cy="633.9" r="1.35" fill="#000"/>
<line x1="43.5" y1="138.8" x2="43.5" y2="177.2" stroke="#000" stroke-width="0.8"/>
<line x1="50.4" y1="340.0" x2="50.4" y2="373.7" stroke="#000" stroke-width="0.8"/>
<rect x="50.6" y="357.4" width="1.8" height="16.3" fill="#888"/>
<rect x="264.1" y="662.4" width="0.7" height="82.8" fill="#666"/>
</svg>
</body></html>
